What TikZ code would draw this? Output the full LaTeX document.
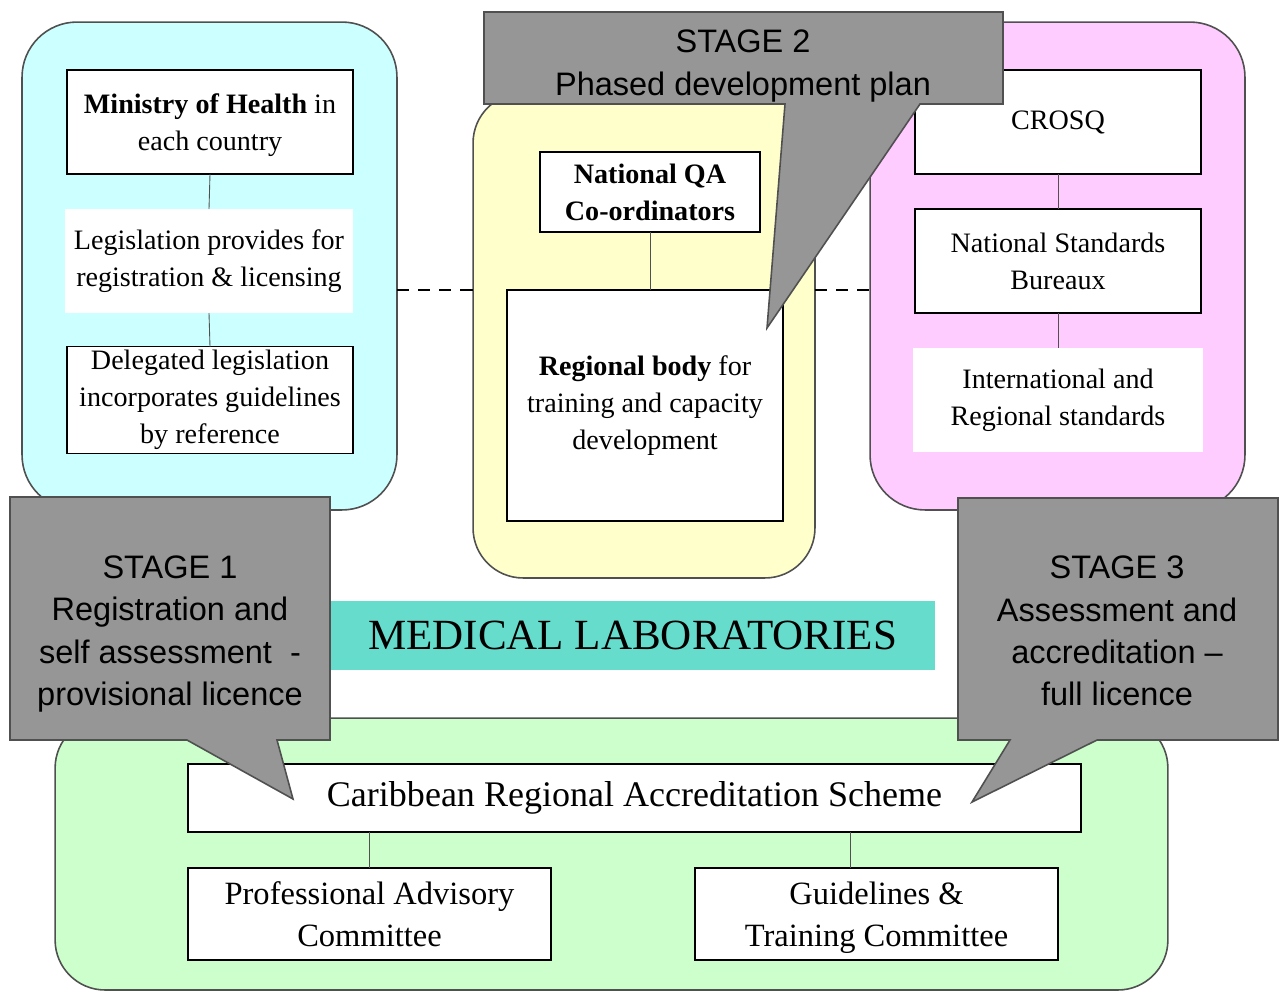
\documentclass[tikz,border=0pt]{standalone}
\usepackage{fontspec}
\setmainfont{Liberation Serif}
\newfontfamily\calloutfont{Liberation Sans}
\usetikzlibrary{positioning}

\definecolor{panelcyan}{RGB}{204,255,255}
\definecolor{panelyellow}{RGB}{255,255,204}
\definecolor{panelpink}{RGB}{255,204,255}
\definecolor{panelgreen}{RGB}{204,255,204}
\definecolor{labteal}{RGB}{102,221,204}
\definecolor{calloutgrey}{RGB}{150,150,150}
\definecolor{edgegrey}{RGB}{80,80,80}

\tikzset{
    panel/.style={draw=edgegrey, line width=0.9pt, rounded corners=1.1cm, outer sep=0pt},
    orgbox/.style={draw=black, fill=white, line width=0.7pt, align=center, inner sep=2pt, outer sep=0pt,
        font=\fontsize{16}{21}\selectfont},
    plainbox/.style={fill=white, align=center, inner sep=2pt, outer sep=0pt, font=\fontsize{16}{21}\selectfont},
    link/.style={draw=edgegrey, line width=0.5pt},
    stage/.style={fill=calloutgrey, draw=edgegrey, line width=0.9pt, line join=miter},
    stagetext/.style={align=center, font=\calloutfont\fontsize{18.5}{24}\selectfont},
}

\begin{document}
\begin{tikzpicture}[x=0.02cm, y=-0.02cm]
    \useasboundingbox (0,0) rectangle (1280,991);

    % three national / regional columns
    \node[panel, fill=panelcyan, minimum width=7.5cm, minimum height=9.76cm] (health) at (209.5,266) {};
    \node[panel, fill=panelyellow, minimum width=6.84cm, minimum height=9.7cm, rounded corners=1cm] (training) at (644,335.5) {};
    \node[panel, fill=panelpink, minimum width=7.5cm, minimum height=9.76cm] (standards) at (1057.5,266) {};

    % left column
    \node[orgbox, minimum width=5.72cm, minimum height=2.08cm] (ministry) at (210,122)
        {\strut\textbf{Ministry of Health} in\\each country};
    \node[plainbox, minimum width=5.76cm, minimum height=2.08cm] (legis) at (209,261)
        {Legislation provides for\\registration \& licensing};
    \node[orgbox, minimum width=5.72cm, minimum height=2.08cm] (delegated) at (210,400)
        {Delegated legislation\\incorporates guidelines\\by reference};
    \draw[link] (ministry.south) -- (legis.north);
    \draw[link] (legis.south) -- (delegated.north);

    % middle column
    \node[orgbox, minimum width=4.4cm, minimum height=1.6cm] (qa) at (650,192)
        {\textbf{National QA}\\\textbf{Co-ordinators}};
    \node[orgbox, minimum width=5.52cm, minimum height=4.62cm] (regional) at (645,405.5)
        {\textbf{Regional body} for\\training and capacity\\development};
    \draw[link] (qa.south) -- (qa.south |- regional.north);

    % right column
    \node[orgbox, minimum width=5.72cm, minimum height=2.08cm] (crosq) at (1058,122) {CROSQ};
    \node[orgbox, minimum width=5.72cm, minimum height=2.08cm] (bureaux) at (1058,261)
        {National Standards\\Bureaux};
    \node[plainbox, minimum width=5.8cm, minimum height=2.08cm] (intl) at (1058,400)
        {International and\\Regional standards};
    \draw[link] (crosq.south) -- (bureaux.north);
    \draw[link] (bureaux.south) -- (intl.north);

    % dashed ties between the columns
    \draw[dashed, line width=0.9pt, dash pattern=on 7pt off 5pt] (health.east |- regional.north) -- (training.west |- regional.north);
    \draw[dashed, line width=0.9pt, dash pattern=on 7pt off 5pt] (training.east |- regional.north) -- (standards.west |- regional.north);

    % title bar
    \node[fill=labteal, minimum width=12.1cm, minimum height=1.38cm, font=\fontsize{24.5}{28}\selectfont] (labs) at (632.5,635.5)
        {MEDICAL LABORATORIES};

    % accreditation scheme
    \node[panel, fill=panelgreen, minimum width=22.26cm, minimum height=5.44cm, rounded corners=1cm] (scheme) at (611.5,854) {};
    \node[orgbox, minimum width=17.86cm, minimum height=1.36cm, font=\fontsize{20.5}{24}\selectfont] (cras) at (634.5,798)
        {Caribbean Regional Accreditation Scheme};
    \node[orgbox, minimum width=7.26cm, minimum height=1.84cm, font=\fontsize{18.5}{24}\selectfont] (advisory) at (369.5,914)
        {Professional Advisory\\Committee};
    \node[orgbox, minimum width=7.26cm, minimum height=1.84cm, font=\fontsize{18.5}{24}\selectfont] (guide) at (876.5,914)
        {\strut Guidelines \&\\Training Committee};
    \draw[link] (advisory.north) -- (advisory.north |- cras.south);
    \draw[link] ([xshift=-0.52cm]guide.north) -- ([xshift=-0.52cm]guide.north |- cras.south);

    % stage callouts
    \path[stage] (10,497) -- (330,497) -- (330,740) -- (277,740) -- (293,799) -- (187,740) -- (10,740) -- cycle;
    \node[stagetext] (stageone) at (170,634)
        {STAGE 1\\Registration and\\self assessment~~-\\provisional licence};

    \path[stage] (484,12) -- (1003,12) -- (1003,104) -- (920,104) -- (767,328) -- (785,104) -- (484,104) -- cycle;
    \node[stagetext] (stagetwo) at (743,66)
        {STAGE 2\\Phased development plan};

    \path[stage] (958,498) -- (1278,498) -- (1278,740) -- (1097,740) -- (972,802) -- (1010,740) -- (958,740) -- cycle;
    \node[stagetext] (stagethree) at (1117,631)
        {STAGE 3\\Assessment and\\accreditation \textendash\\full licence};
\end{tikzpicture}
\end{document}
